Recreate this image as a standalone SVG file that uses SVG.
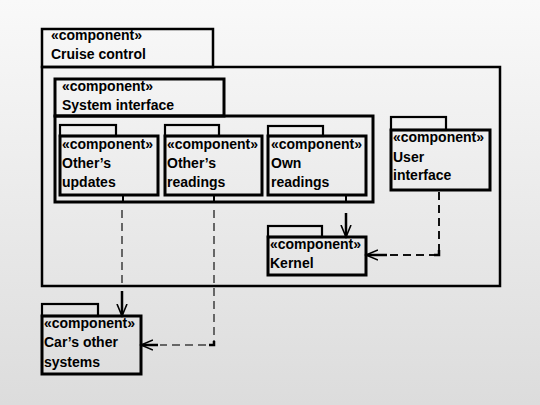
<svg xmlns="http://www.w3.org/2000/svg" width="540" height="405" viewBox="0 0 540 405">
<defs>
<linearGradient id="bg" x1="0" y1="0" x2="0" y2="1">
<stop offset="0" stop-color="#f9f9f9"/>
<stop offset="1" stop-color="#dcdcdc"/>
</linearGradient>
<marker id="open" markerUnits="userSpaceOnUse" markerWidth="14" markerHeight="14" refX="12" refY="6" orient="auto" viewBox="0 0 14 12">
<path d="M0,1 L12,6 L0,11" fill="none" stroke="#000" stroke-width="1.6" stroke-dasharray="none"/>
</marker>
</defs>
<style>
.b{fill:none;stroke:#000;stroke-width:3}
.t{fill:none;stroke:#000;stroke-width:2.2}
.o{fill:none;stroke:#000;stroke-width:2.5}
text{font-family:"Liberation Sans",Arial,sans-serif;font-size:14px;font-weight:bold;fill:#000}
.d{fill:none;stroke:#666;stroke-width:2;stroke-dasharray:8,5}
.dk{fill:none;stroke:#111;stroke-width:2;stroke-dasharray:8,5}
.s{fill:none;stroke:#000;stroke-width:2.5}
.tick{fill:none;stroke:#000;stroke-width:2}
</style>
<rect x="0" y="0" width="540" height="405" fill="url(#bg)"/>

<g id="cruise-control">
<rect class="o" x="42" y="29" width="171" height="38"/>
<rect class="o" x="42" y="67" width="458" height="219"/>
<text x="51" y="40">«component»</text>
<text x="51" y="59">Cruise control</text>
</g>

<g id="system-interface">
<rect class="b" x="55" y="79" width="169" height="37"/>
<rect class="b" x="55" y="116" width="318" height="86"/>
<text x="62" y="91">«component»</text>
<text x="62" y="110">System interface</text>
</g>

<g id="others-updates">
<rect class="t" x="60" y="125" width="56" height="11"/>
<rect class="b" x="60" y="136" width="98" height="59"/>
<text x="62" y="149">«component»</text>
<text x="62" y="168">Other’s</text>
<text x="62" y="187">updates</text>
</g>

<g id="others-readings">
<rect class="t" x="165" y="125" width="54" height="11"/>
<rect class="b" x="165" y="136" width="97" height="59"/>
<text x="167" y="149">«component»</text>
<text x="167" y="168">Other’s</text>
<text x="167" y="187">readings</text>
</g>

<g id="own-readings">
<rect class="t" x="268" y="126" width="55" height="10"/>
<rect class="b" x="268" y="136" width="98" height="59"/>
<text x="271" y="149">«component»</text>
<text x="271" y="168">Own</text>
<text x="271" y="187">readings</text>
</g>

<g id="user-interface">
<rect class="t" x="391" y="117" width="55" height="13"/>
<rect class="b" x="391" y="130" width="99" height="60"/>
<text x="393" y="142">«component»</text>
<text x="393" y="162">User</text>
<text x="393" y="180">interface</text>
</g>

<g id="kernel">
<rect class="t" x="268" y="226" width="54" height="11"/>
<rect class="b" x="268" y="237" width="98" height="38"/>
<text x="270" y="249">«component»</text>
<text x="270" y="268">Kernel</text>
</g>

<g id="cars-other-systems">
<rect class="t" x="42" y="304" width="56" height="12"/>
<rect class="b" x="42" y="316" width="99" height="58"/>
<text x="44" y="328">«component»</text>
<text x="44" y="347">Car’s other</text>
<text x="44" y="367">systems</text>
</g>

<g id="connectors">
<path class="tick" d="M123,196 V202"/>
<path class="tick" d="M214,196 V202"/>
<path class="tick" d="M346,196 V202"/>

<path class="d" d="M122,210 V284"/>
<path class="s" d="M122,291 V316" marker-end="url(#open)"/>

<path class="d" d="M214,210 V345 H160"/>
<path class="s" d="M214,341 V345 H209"/>
<path class="s" d="M158,345 H141" marker-end="url(#open)"/>

<path class="s" d="M346,213 V237" marker-end="url(#open)"/>

<path class="dk" d="M439,192 V255 H388"/>
<path class="s" d="M439,250 V255 H434"/>
<path class="s" d="M387,255 H366" marker-end="url(#open)"/>
</g>
</svg>
